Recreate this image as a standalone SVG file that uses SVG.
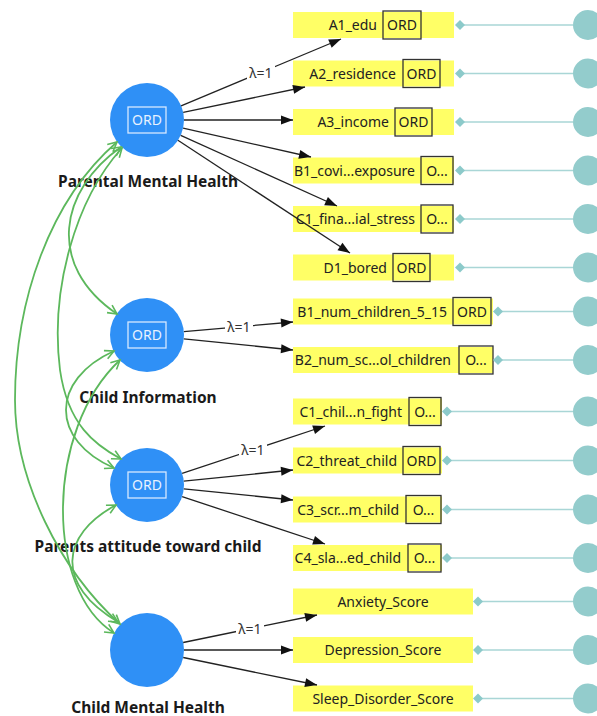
<svg xmlns="http://www.w3.org/2000/svg" width="597" height="716" viewBox="0 0 597 716">
<style>
.lat{fill:#2f90f6}
.ordl{fill:none;stroke:#d6e8ff;stroke-width:1.3}
.ordt{font-family:"Noto Sans","Open Sans",sans-serif;font-size:14px;fill:#e8f2ff;text-anchor:middle}
.ll{font-family:"Noto Sans","Open Sans",sans-serif;font-size:15.5px;font-weight:bold;fill:#1a1a1a;text-anchor:middle}
.yb{fill:#ffff66}
.ob{fill:none;stroke:#333;stroke-width:1.3}
.it{font-family:"Noto Sans","Open Sans",sans-serif;font-size:14px;fill:#222}
.ot{font-family:"Noto Sans","Open Sans",sans-serif;font-size:14px;fill:#222;text-anchor:middle}
.ct{font-family:"Noto Sans","Open Sans",sans-serif;font-size:14px;fill:#222;text-anchor:middle}
.rl{stroke:#a9d6d6;stroke-width:1.5}
.dm{fill:#8ccaca}
.rc{fill:#93cccc}
.ar{stroke:#222;stroke-width:1.3;fill:none;marker-end:url(#ah)}
.gc{stroke:#5cb85c;stroke-width:1.8;fill:none;marker-start:url(#gh);marker-end:url(#gh)}
.lam{font-family:"Noto Sans","Open Sans",sans-serif;font-size:14px;fill:#333;text-anchor:middle}
</style>
<defs>
<marker id="ah" markerUnits="userSpaceOnUse" markerWidth="14" markerHeight="11" refX="12" refY="4.5" orient="auto" overflow="visible">
<path d="M0,0 L12,4.5 L0,9 z" fill="#111"/>
</marker>
<marker id="gh" markerUnits="userSpaceOnUse" markerWidth="12" markerHeight="12" refX="9" refY="4.5" orient="auto-start-reverse" overflow="visible">
<path d="M0,0 L9,4.5 L0,9" fill="none" stroke="#5cb85c" stroke-width="1.6"/>
</marker>
</defs>

<!-- latent nodes -->
<g id="parental_mental_health">
<circle class="lat" cx="147" cy="120" r="37"/>
<rect class="ordl" x="128" y="107" width="38" height="26"/>
<text class="ordt" x="147" y="125">ORD</text>
<text class="ll" x="148" y="187">Parental Mental Health</text>
</g>
<g id="child_information">
<circle class="lat" cx="147" cy="335" r="37"/>
<rect class="ordl" x="128" y="322" width="38" height="26"/>
<text class="ordt" x="147" y="340">ORD</text>
<text class="ll" x="148" y="403">Child Information</text>
</g>
<g id="parents_attitude">
<circle class="lat" cx="147" cy="485" r="37"/>
<rect class="ordl" x="128" y="472" width="38" height="26"/>
<text class="ordt" x="147" y="490">ORD</text>
<text class="ll" x="148" y="552">Parents attitude toward child</text>
</g>
<g id="child_mental_health">
<circle class="lat" cx="147" cy="650" r="37"/>
<text class="ll" x="148" y="713">Child Mental Health</text>
</g>

<!-- indicator nodes -->
<g id="A1_edu">
<rect class="yb" x="293" y="12" width="161" height="26"/>
<text class="it" x="377" y="30" text-anchor="end">A1_edu</text>
<rect class="ob" x="383" y="11" width="38" height="28"/>
<text class="ot" x="402" y="30">ORD</text>
<line class="rl" x1="460" y1="25" x2="573" y2="25"/>
<path class="dm" d="M455,25 L460,20 L465,25 L460,30 z"/>
<circle class="rc" cx="588" cy="25" r="15"/>
</g>
<g id="A2_residence">
<rect class="yb" x="293" y="60.5" width="161" height="26"/>
<text class="it" x="396" y="78.5" text-anchor="end">A2_residence</text>
<rect class="ob" x="403" y="59.5" width="37" height="28"/>
<text class="ot" x="421.5" y="78.5">ORD</text>
<line class="rl" x1="460" y1="73.5" x2="573" y2="73.5"/>
<path class="dm" d="M455,73.5 L460,68.5 L465,73.5 L460,78.5 z"/>
<circle class="rc" cx="588" cy="73.5" r="15"/>
</g>
<g id="A3_income">
<rect class="yb" x="293" y="109" width="161" height="26"/>
<text class="it" x="389" y="127" text-anchor="end">A3_income</text>
<rect class="ob" x="395" y="108" width="37" height="28"/>
<text class="ot" x="413.5" y="127">ORD</text>
<line class="rl" x1="460" y1="122" x2="573" y2="122"/>
<path class="dm" d="M455,122 L460,117 L465,122 L460,127 z"/>
<circle class="rc" cx="588" cy="122" r="15"/>
</g>
<g id="B1_covid_exposure">
<rect class="yb" x="293" y="157.5" width="161" height="26"/>
<text class="it" x="415" y="175.5" text-anchor="end">B1_covi...exposure</text>
<rect class="ob" x="421" y="156.5" width="32" height="28"/>
<text class="ot" x="437" y="175.5">O...</text>
<line class="rl" x1="460" y1="170.5" x2="573" y2="170.5"/>
<path class="dm" d="M455,170.5 L460,165.5 L465,170.5 L460,175.5 z"/>
<circle class="rc" cx="588" cy="170.5" r="15"/>
</g>
<g id="C1_financial_stress">
<rect class="yb" x="293" y="206" width="161" height="26"/>
<text class="it" x="415" y="224" text-anchor="end">C1_fina...ial_stress</text>
<rect class="ob" x="421" y="205" width="32" height="28"/>
<text class="ot" x="437" y="224">O...</text>
<line class="rl" x1="460" y1="219" x2="573" y2="219"/>
<path class="dm" d="M455,219 L460,214 L465,219 L460,224 z"/>
<circle class="rc" cx="588" cy="219" r="15"/>
</g>
<g id="D1_bored">
<rect class="yb" x="293" y="254.5" width="161" height="26"/>
<text class="it" x="387" y="272.5" text-anchor="end">D1_bored</text>
<rect class="ob" x="393" y="253.5" width="37" height="28"/>
<text class="ot" x="411.5" y="272.5">ORD</text>
<line class="rl" x1="460" y1="267.5" x2="573" y2="267.5"/>
<path class="dm" d="M455,267.5 L460,262.5 L465,267.5 L460,272.5 z"/>
<circle class="rc" cx="588" cy="267.5" r="15"/>
</g>
<g id="B1_num_children_5_15">
<rect class="yb" x="293" y="298.5" width="200" height="26"/>
<text class="it" x="447" y="316.5" text-anchor="end">B1_num_children_5_15</text>
<rect class="ob" x="453" y="297.5" width="38" height="28"/>
<text class="ot" x="472" y="316.5">ORD</text>
<line class="rl" x1="498" y1="311.5" x2="573" y2="311.5"/>
<path class="dm" d="M493,311.5 L498,306.5 L503,311.5 L498,316.5 z"/>
<circle class="rc" cx="588" cy="311.5" r="15"/>
</g>
<g id="B2_num_school_children">
<rect class="yb" x="293" y="347" width="200" height="26"/>
<text class="it" x="451" y="365" text-anchor="end">B2_num_sc...ol_children</text>
<rect class="ob" x="459" y="346" width="34" height="28"/>
<text class="ot" x="476" y="365">O...</text>
<line class="rl" x1="498" y1="360" x2="573" y2="360"/>
<path class="dm" d="M493,360 L498,355 L503,360 L498,365 z"/>
<circle class="rc" cx="588" cy="360" r="15"/>
</g>
<g id="C1_children_fight">
<rect class="yb" x="293" y="398.5" width="149" height="26"/>
<text class="it" x="402" y="416.5" text-anchor="end">C1_chil...n_fight</text>
<rect class="ob" x="409" y="397.5" width="32" height="28"/>
<text class="ot" x="425" y="416.5">O...</text>
<line class="rl" x1="447" y1="411.5" x2="573" y2="411.5"/>
<path class="dm" d="M442,411.5 L447,406.5 L452,411.5 L447,416.5 z"/>
<circle class="rc" cx="588" cy="411.5" r="15"/>
</g>
<g id="C2_threat_child">
<rect class="yb" x="293" y="447.5" width="149" height="26"/>
<text class="it" x="397" y="465.5" text-anchor="end">C2_threat_child</text>
<rect class="ob" x="403" y="446.5" width="37" height="28"/>
<text class="ot" x="421.5" y="465.5">ORD</text>
<line class="rl" x1="447" y1="460.5" x2="573" y2="460.5"/>
<path class="dm" d="M442,460.5 L447,455.5 L452,460.5 L447,465.5 z"/>
<circle class="rc" cx="588" cy="460.5" r="15"/>
</g>
<g id="C3_scream_child">
<rect class="yb" x="293" y="496.5" width="149" height="26"/>
<text class="it" x="399" y="514.5" text-anchor="end">C3_scr...m_child</text>
<rect class="ob" x="406" y="495.5" width="35" height="28"/>
<text class="ot" x="423.5" y="514.5">O...</text>
<line class="rl" x1="447" y1="509.5" x2="573" y2="509.5"/>
<path class="dm" d="M442,509.5 L447,504.5 L452,509.5 L447,514.5 z"/>
<circle class="rc" cx="588" cy="509.5" r="15"/>
</g>
<g id="C4_slapped_child">
<rect class="yb" x="293" y="545" width="149" height="26"/>
<text class="it" x="401" y="563" text-anchor="end">C4_sla...ed_child</text>
<rect class="ob" x="408" y="544" width="33" height="28"/>
<text class="ot" x="424.5" y="563">O...</text>
<line class="rl" x1="447" y1="558" x2="573" y2="558"/>
<path class="dm" d="M442,558 L447,553 L452,558 L447,563 z"/>
<circle class="rc" cx="588" cy="558" r="15"/>
</g>
<g id="Anxiety_Score">
<rect class="yb" x="293" y="588.5" width="180" height="26"/>
<text class="ct" x="383" y="606.5">Anxiety_Score</text>
<line class="rl" x1="478" y1="601.5" x2="573" y2="601.5"/>
<path class="dm" d="M473,601.5 L478,596.5 L483,601.5 L478,606.5 z"/>
<circle class="rc" cx="588" cy="601.5" r="15"/>
</g>
<g id="Depression_Score">
<rect class="yb" x="293" y="637" width="180" height="26"/>
<text class="ct" x="383" y="655">Depression_Score</text>
<line class="rl" x1="478" y1="650" x2="573" y2="650"/>
<path class="dm" d="M473,650 L478,645 L483,650 L478,655 z"/>
<circle class="rc" cx="588" cy="650" r="15"/>
</g>
<g id="Sleep_Disorder_Score">
<rect class="yb" x="293" y="685.5" width="180" height="26"/>
<text class="ct" x="383" y="703.5">Sleep_Disorder_Score</text>
<line class="rl" x1="478" y1="698.5" x2="573" y2="698.5"/>
<path class="dm" d="M473,698.5 L478,693.5 L483,698.5 L478,703.5 z"/>
<circle class="rc" cx="588" cy="698.5" r="15"/>
</g>

<!-- connectors -->
<g id="connectors">
<line class="ar" x1="181.1" y1="105.8" x2="341" y2="39"/>
<line class="ar" x1="183.2" y1="112.4" x2="305" y2="87"/>
<line class="ar" x1="184" y1="120" x2="293" y2="120"/>
<line class="ar" x1="183.1" y1="128.1" x2="311" y2="157"/>
<line class="ar" x1="180.7" y1="135.3" x2="337" y2="206"/>
<line class="ar" x1="177.9" y1="140.3" x2="350" y2="253"/>
<line class="ar" x1="183.9" y1="331.7" x2="293" y2="322"/>
<line class="ar" x1="183.8" y1="338.8" x2="293" y2="350"/>
<line class="ar" x1="182.1" y1="473.4" x2="325" y2="426"/>
<line class="ar" x1="183.8" y1="481.2" x2="293" y2="470"/>
<line class="ar" x1="183.8" y1="488.8" x2="293" y2="500"/>
<line class="ar" x1="182.1" y1="496.6" x2="325" y2="544"/>
<line class="ar" x1="183.2" y1="642.5" x2="317" y2="615"/>
<line class="ar" x1="184" y1="650" x2="293" y2="650"/>
<line class="ar" x1="183.2" y1="657.5" x2="317" y2="685"/>
<rect x="247" y="66" width="28" height="14" fill="#fff"/>
<text class="lam" x="261" y="78">λ=1</text>
<rect x="225" y="320" width="28" height="14" fill="#fff"/>
<text class="lam" x="239" y="332">λ=1</text>
<rect x="239" y="443" width="28" height="14" fill="#fff"/>
<text class="lam" x="253" y="455">λ=1</text>
<rect x="236" y="622" width="28" height="14" fill="#fff"/>
<text class="lam" x="250" y="634">λ=1</text>
<path class="gc" d="M117,142 C50,200 15,300 15,400 C15,480 60,570 120,624"/>
<path class="gc" d="M122,148 C75,200 50,290 60,370 C68,425 95,445 121,459"/>
<path class="gc" d="M121,147 C60,190 45,265 117,314"/>
<path class="gc" d="M114,351 C50,380 50,440 114,468"/>
<path class="gc" d="M120,360 C45,430 45,590 114,633"/>
<path class="gc" d="M116,505 C60,535 55,585 118,622"/>
</g>
</svg>
